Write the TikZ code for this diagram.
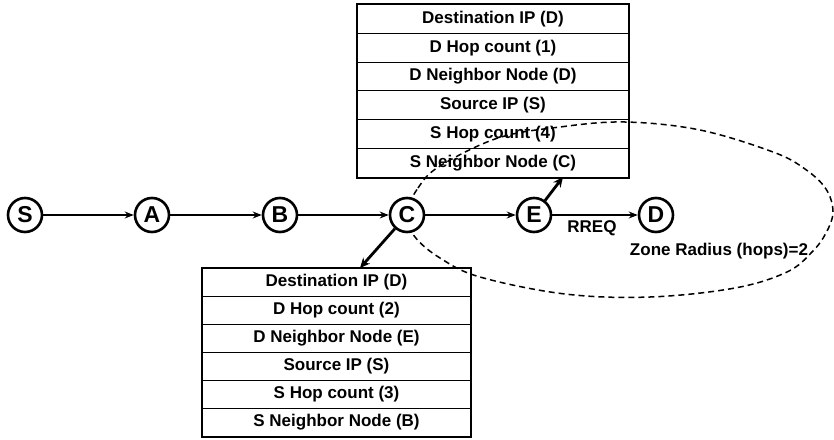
\documentclass[tikz,border=0pt]{standalone}
\usepackage{fontspec}
\setmainfont{Liberation Sans}
\usetikzlibrary{arrows.meta}
\begin{document}
\begin{tikzpicture}[x=1pt,y=-1pt,
  toprow/.style={draw,line width=1pt,minimum width=271pt,minimum height=28.83pt,inner sep=0pt,anchor=north west,font=\fontsize{17}{17}\selectfont\bfseries},
  botrow/.style={draw,line width=1pt,minimum width=268pt,minimum height=28pt,inner sep=0pt,anchor=north west,font=\fontsize{17}{17}\selectfont\bfseries},
  frame/.style={line width=2.8pt},
  hop/.style={circle,draw,line width=2.6pt,fill=white,minimum size=34pt,inner sep=0pt,font=\fontsize{23}{23}\selectfont\bfseries},
  link/.style={line width=1.2pt,-{Stealth[length=9pt,width=7pt]}},
  tablink/.style={line width=2.8pt,-{Stealth[length=10pt,width=9pt]}},
  zone/.style={line width=1.5pt,dash pattern=on 6pt off 4pt},
  lbl/.style={font=\fontsize{17}{17}\selectfont\bfseries,inner sep=0pt}
]
\useasboundingbox (0,0) rectangle (834,439);

% top table
\foreach \t [count=\i from 0] in {Destination IP (D),D Hop count (1),D Neighbor Node (D),Source IP (S),S Hop count (4),S Neighbor Node (C)}
  \node[toprow] (t\i) at (357,{4+28.83*\i}) {\t};
\draw[frame] (t0.north west) rectangle (t5.south east);

% bottom table
\foreach \t [count=\i from 0] in {Destination IP (D),D Hop count (2),D Neighbor Node (E),Source IP (S),S Hop count (3),S Neighbor Node (B)}
  \node[botrow] (b\i) at (202,{268+28*\i}) {\t};
\draw[frame] (b0.north west) rectangle (b5.south east);

% zone
\draw[zone] plot[smooth cycle, tension=0.6] coordinates {
  (406,215) (418,188) (440,166) (498,138) (560,127) (625,122) (700,130)
  (773,152) (805,169) (826,189) (833,212) (826,233) (812,252) (787,272)
  (735,288) (650,297) (565,294) (480,277) (440,258) (415,237)};

% hops
\node[hop] (S) at (25,215) {S};
\node[hop] (A) at (152,215) {A};
\node[hop] (B) at (280,215) {B};
\node[hop] (C) at (407,215) {C};
\node[hop] (E) at (534,215) {E};
\node[hop] (D) at (656,215) {D};

\draw[link] (S) -- (A);
\draw[link] (A) -- (B);
\draw[link] (B) -- (C);
\draw[link] (C) -- (E);
\draw[link] (E) -- (D);

\coordinate (bt) at (360,268);
\coordinate (tt) at (563,177);
\draw[tablink] (C) -- (bt);
\draw[tablink] (E) -- (tt);

\node[lbl] (rreq) at (592,228) {RREQ};
\node[lbl] (zr) at (719,251) {Zone Radius (hops)=2};
\end{tikzpicture}
\end{document}
